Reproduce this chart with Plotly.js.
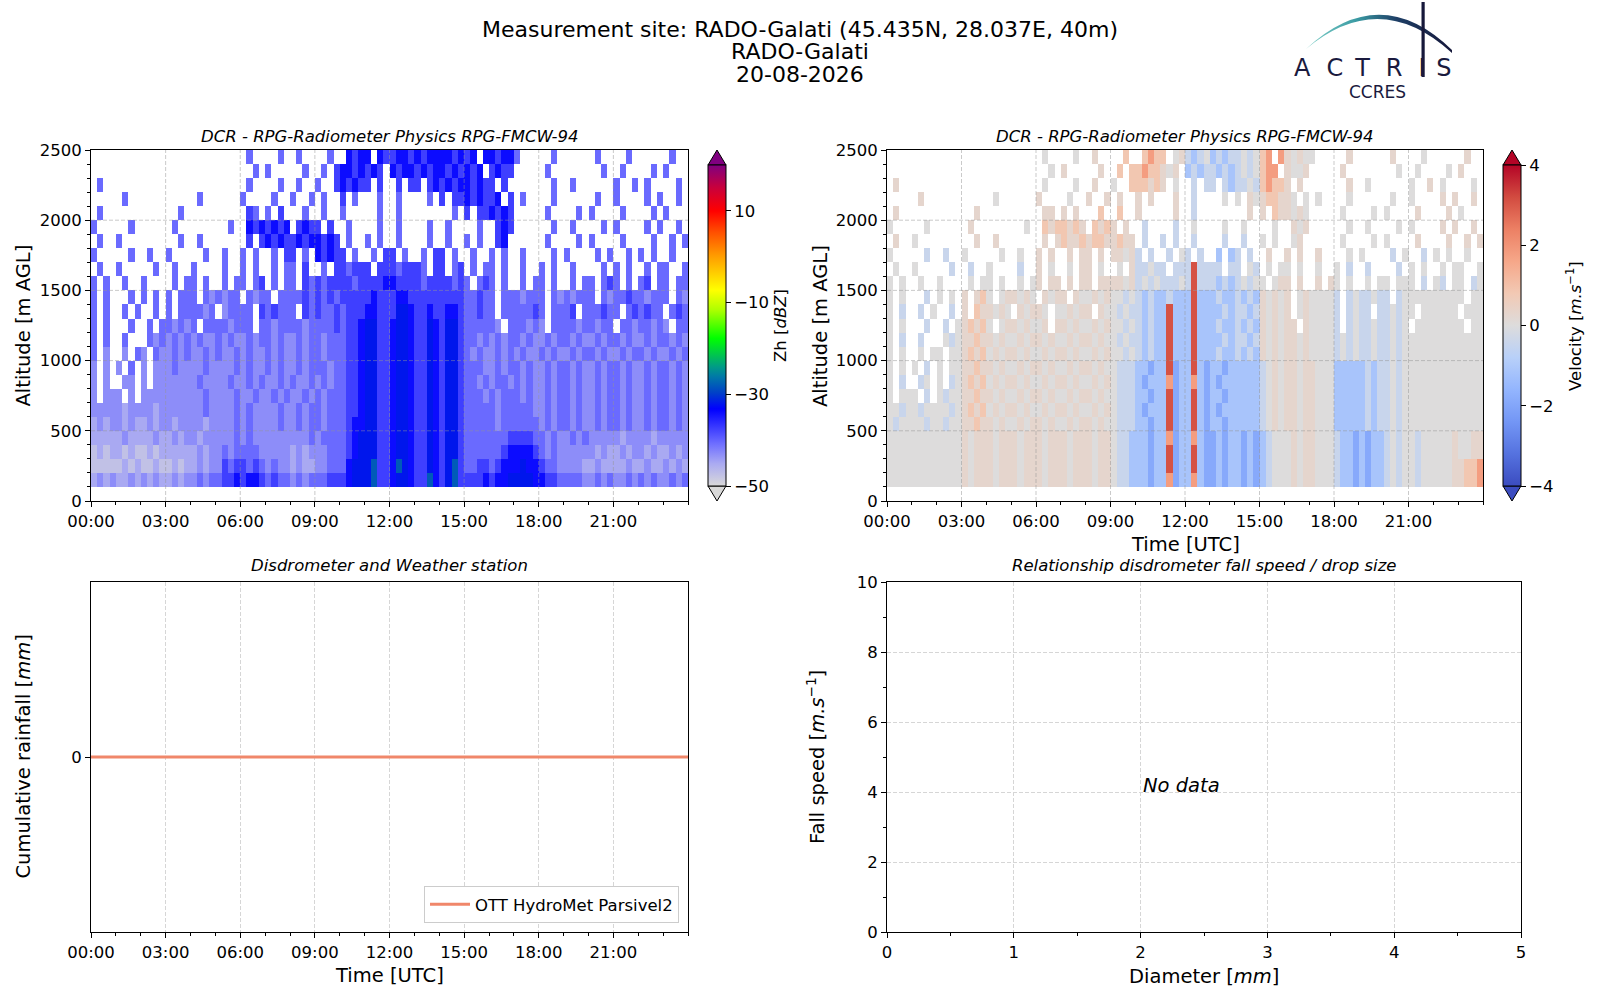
<!DOCTYPE html>
<html>
<head>
<meta charset="utf-8">
<script src="https://cdn.plot.ly/plotly-3.0.1.min.js"></script>
<style>html,body{margin:0;padding:0;background:#fff}#chart{width:1600px;height:1000px}</style>
</head>
<body>
<div id="chart"></div>
<script>
// ---------------- DATA ----------------
const hourTickValues = [0, 3, 6, 9, 12, 15, 18, 21];
const hourTickLabels = ['00:00', '03:00', '06:00', '09:00', '12:00', '15:00', '18:00', '21:00'];
const altitudeEdges = [100, 200, 300, 400, 500, 600, 700, 800, 900, 1000, 1100, 1200, 1300,
                       1400, 1500, 1600, 1700, 1800, 1900, 2000, 2100, 2200, 2300, 2400, 2500];
const timeStepHours = 0.25;            // one character = 15 minutes
const columnsPerDay = 96;

// Reflectivity, top row = 2400-2500 m, bottom row = 100-200 m ('.' = no echo)
const reflectivityRows = [
  ".... .... .... .... .... .... .4.. ..4. .4.. ..4. .656 6.65 5665 6566 6656 56.6 6566 4... ..4. .... .4.. ..4. .... .4..",
  ".... .... .... .... .... .... ..4. 4... ..4. .4.5 6656 565. 6566 5656 6565 656. 5655 .... .4.. .... ..4. .4.. ..4. 4...",
  ".4.. .... .... .... .... .... .4.. ..4. .4.. 4..5 6565 5.5. .5.5 5.56 5656 6565 5.5. .... ..4. .4.. .... 4..4 .4.. ..4.",
  ".... .4.. .... .... .4.. .... 4... .4.. 4..4 .4.. 5.4. ..4. .4.. ..4. 5.55 6565 56.5 .4.. ..4. .... .4.. 4... .4.4 ..4.",
  ".4.. .... .... ..4. .... .... .54. 4.5. ..4. .4.. 4... ..4. .4.. .... ..4. 5.55 6565 .... .4.. ..4. 4... .4.. ..4. 4...",
  "4... ..4. .... .4.. .... ..4. .656 5656 .565 5.5. .4.. ..4. .4.. ..4. .4.. ..4. .565 .... ..4. .4.. ..4. 4... .4.4 ..4.",
  ".4.. 4... .... ..4. .4.. .... .5.5 6565 5656 6565 .4.. 4.4. .4.. ..4. .4.. 4.4. .56. .... .4.. ..4. 4... .4.. ..4. .4.4",
  "4... ..4. .4.. 4... ..4. .4.. 4.4. .4.5 5.4. 6565 5.4. .4.5 5.4. .4.5 5.4. .4.. 4.4. .4.. ..4. 4... .4.4 ..4. 4.4. .4..",
  ".4.. 4... ..4. .4.. 4... .4.. 4.4. .4.4 4.5. .4.5 5455 5.55 5455 54.5 5.45 .4.4 4.4. .4.. 4.4. .4.. ..4. 4.4. .4.4 4..4",
  "4.4. .4.. 4... .4.4 4.4. .4.4 4.45 .4.4 4.54 5455 5545 5556 6555 5455 5545 4.45 4.4. .4.4 4.4. .4.4 4.45 4.4. 45.4 4.44",
  "4.4. ..4. 4.4. 4.44 4.43 4344 .434 4.44 4454 5454 5555 5655 5665 5555 5555 4454 4.44 4344 4.43 4344 4.43 4454 4344 4.43",
  "4.4. .4.4 ..4. 4.44 4434 .344 44.5 4544 4.54 5445 4555 6655 5776 5565 5665 4454 4.44 4445 4.44 45.4 4454 4.45 4544 .454",
  "4.4. ..4. .4.4 4343 4.44 4434 44.4 4344 4434 4445 4556 7755 6776 5576 5775 4444 43.4 4434 3.44 4434 4344 .443 4434 3.44",
  "4.4. .4.. .434 3434 3433 4343 3434 4343 3434 4344 4556 7755 6776 5576 5775 4434 3434 4343 3434 4343 3434 4343 3434 4343",
  "4.3. .3.4 3.43 3434 3343 4334 3433 4343 3434 4344 4556 7755 6776 5576 5775 4343 3434 3433 4343 3434 4343 3434 4343 3434",
  "3.3. 3.4. 3.33 3433 3343 3334 3433 4343 3434 4434 4556 7755 6776 5576 5775 4443 3434 4343 3434 4343 3434 4343 3434 4343",
  "3.3. .33. 3.33 3333 3433 3343 3434 3343 4334 3434 4556 7755 6776 5576 5775 4434 3443 4343 3434 4343 3434 4343 3434 4343",
  "3.33 3.3. 3333 3333 3343 3334 3343 3434 3343 4344 4556 7755 6776 5576 5775 4443 4344 4343 3434 4343 3434 4343 3434 4343",
  "3333 3233 3323 3333 3343 3334 3433 3343 3434 4344 4556 7755 6776 5576 5775 4444 4344 4443 3434 4343 3434 4343 3434 4343",
  "2323 3232 2323 3233 3323 3334 3433 3343 3434 4344 4566 7755 6776 5576 5775 4444 4344 4444 3434 4343 3434 4343 3434 4343",
  "2222 2322 2232 2323 3233 3334 3433 3333 3334 3444 4567 7755 6776 5576 5775 4444 4445 5554 4343 3434 3333 3233 3323 3333",
  "1212 2121 1212 2222 2323 3434 4443 3333 2323 3344 4567 7755 6776 5576 5775 4444 4456 6665 4343 3333 3232 2323 3232 2323",
  "1111 1212 1121 1212 2323 3545 5454 3433 2322 3344 4677 7855 6876 5576 5785 4455 4566 6766 5443 3332 2322 2232 2322 3232",
  "2323 2232 3232 2323 3434 4556 5665 4544 3434 4455 5677 7855 6776 5586 5785 5556 5667 7776 6554 4443 3434 3343 4343 3434"
];
const reflectivityLevels = {'0': -50, '1': -47.5, '2': -45, '3': -43, '4': -40.5, '5': -37.5, '6': -34, '7': -32, '8': -28, '9': -20};

// Doppler velocity, same grid (shown only where an echo exists)
const velocityRows = [
  "5656 5565 5656 5565 5656 5565 6565 5656 6656 5677 7787 7656 4345 3434 4545 7878 6565 5656 5565 6556 5665 5656 6565 5656",
  "5565 5656 5565 5656 5565 5656 6656 6565 5666 5767 7877 6565 3434 4343 4545 7887 6556 5565 5656 5565 6556 5565 5656 6565",
  "5656 5565 5656 5565 5656 5565 6565 5656 6656 5677 7767 6556 3434 4343 4454 7877 6565 5656 5565 6556 5665 5656 6565 5656",
  "5565 5656 5565 5656 5565 5656 6656 6565 6666 5676 6767 6565 5454 5454 5565 6776 6565 5565 5656 5565 6556 5565 5656 6565",
  "5656 5565 5656 5565 5656 5565 6666 6767 6676 6766 6767 6565 5454 5454 5565 6776 6565 5656 5565 6556 5665 5656 6565 5656",
  "5565 5656 5565 5656 5565 5656 6767 7676 6767 6766 5454 5545 4545 5454 5545 5656 5656 5565 5656 5565 6556 5565 5656 6565",
  "5656 5565 5656 5565 5656 5565 6676 7667 6776 6766 5454 4545 5445 4545 5454 5656 6565 5656 5565 6556 5665 5656 6565 5656",
  "5455 5545 5455 5545 5455 5545 6566 6656 6566 6656 4545 4445 4844 4343 4545 5656 6565 5656 5455 5545 5455 5545 5455 5545",
  "5545 5455 5545 5455 5545 5455 6656 6566 6656 6566 4454 4544 4944 4434 4454 6565 5656 6565 5545 5455 5545 5455 5545 5455",
  "5455 5545 5455 5545 5455 5545 6566 6656 6566 6656 4545 4445 4944 4343 4545 5656 6565 5656 5455 5545 5455 5545 5455 5545",
  "5455 5545 5455 6767 5656 6565 5656 6565 5656 5545 4343 3433 3933 3433 4343 6565 6656 5555 4545 4454 4545 5555 5555 5555",
  "5545 5455 5545 6676 6565 5656 6565 5656 6565 5454 4343 3933 3933 3343 4434 6565 6656 5555 4545 4454 4545 5555 5555 5555",
  "5455 5545 5455 6767 5656 6565 5656 6565 5656 5545 4343 3933 3933 3433 4343 6565 6656 5555 4545 4454 4545 5555 5555 5555",
  "5545 5455 5545 6676 6565 5656 6565 5656 6565 5454 4343 3933 3933 3343 4434 6565 6656 5555 4545 4454 4545 5555 5555 5555",
  "5455 5545 5455 6767 5656 6565 5656 6565 5656 5545 4343 3933 3933 3433 4343 6565 6656 5555 4545 4454 4545 5555 5555 5555",
  "5455 5545 5455 6676 6565 5656 6565 5656 6565 5444 3323 3923 3932 3323 3333 4565 6656 6555 3333 3434 4545 5555 5555 5555",
  "5545 5455 5545 6767 5656 6565 5656 6565 5656 5444 3233 3823 3832 3233 3333 4565 6656 6555 3333 3434 4545 5555 5555 5555",
  "5455 5545 5455 6676 6565 5656 6565 5656 6565 5444 3323 3923 3932 3323 3333 4565 6656 6555 3333 3434 4545 5555 5555 5555",
  "5545 5455 5545 6767 5656 6565 5656 6565 5656 5444 3233 3923 3932 3233 3333 4565 6656 6555 3333 3434 4545 5555 5555 5555",
  "5455 5545 5455 6676 6565 5656 6565 5656 6565 5444 3323 3923 3932 3323 3333 4565 6656 6555 3333 3434 4545 5555 5555 5555",
  "5555 5555 5555 6566 6566 6566 6566 6566 6566 5443 3323 3823 3832 2323 3232 3455 5656 6555 4332 3233 4545 5455 5556 5566",
  "5555 5555 5555 6566 6566 6566 6566 6566 6566 5443 3323 3923 3932 2323 3232 3455 5656 6555 4332 3233 4545 5455 5556 5566",
  "5555 5555 5555 6566 6566 6566 6566 6566 6566 5443 3323 3923 3932 2323 3232 3455 5656 6555 4332 3233 4545 5455 5556 6778",
  "5555 5555 5555 6566 6566 6566 6566 6566 6566 5443 3323 3823 3832 2323 3232 3455 5656 6555 4332 3233 4545 5455 5556 6778"
];
const velocityLevels = {'0': -4, '1': -3, '2': -1.9, '3': -1.15, '4': -0.45, '5': 0, '6': 0.3, '7': 0.85, '8': 1.8, '9': 3.1};

const zhTickValues = [-50, -30, -10, 10];
const zhTickLabels = ['\u221250', '\u221230', '\u221210', '10'];
const velTickValues = [-4, -2, 0, 2, 4];
const velTickLabels = ['\u22124', '\u22122', '0', '2', '4'];

const rainfallTimeHours = [0, 3, 6, 9, 12, 15, 18, 21, 24];
const rainfallCumulative = [0, 0, 0, 0, 0, 0, 0, 0, 0];
const dropDiameter = [];
const dropFallSpeed = [];

// ---------------- BUILD ----------------
const W = 1600, H = 1000;
const FONT = 'DejaVu Sans, Liberation Sans, sans-serif';
const px = v => v / W;
const py = v => 1 - v / H;

function decodeGrid(rows, levels) {
  return rows.slice().reverse().map(r => r.replace(/ /g, '').split('').map(c => c === '.' ? null : levels[c]));
}
const badRows = reflectivityRows.concat(velocityRows).filter(r => r.replace(/ /g, '').length !== columnsPerDay).length;
const zhGrid = decodeGrid(reflectivityRows, reflectivityLevels);
const velRaw = decodeGrid(velocityRows, velocityLevels);
const velGrid = velRaw.map((row, i) => row.map((v, j) => (zhGrid[i][j] === null || zhGrid[i][j] === undefined) ? null : v));
const timeEdges = [];
for (let k = 0; k <= columnsPerDay; k++) timeEdges.push(k * timeStepHours);

const zhScale = [
  [0.0, '#d9d9d9'], [0.07, '#aaaaf2'], [0.13, '#7070ff'], [0.24, '#0000ff'], [0.29, '#0040c8'],
  [0.34, '#0078a8'], [0.37, '#009a88'], [0.46, '#00ff00'], [0.55, '#b0ff00'], [0.61, '#ffff00'],
  [0.72, '#ff9900'], [0.79, '#ff5000'], [0.857, '#ff0000'], [0.93, '#c8003c'], [1.0, '#800080']
];
const velScale = [
  [0.0, '#3b4cc0'], [0.1, '#5572df'], [0.2, '#7396f5'], [0.3, '#93b5fe'], [0.4, '#b8d0f9'],
  [0.5, '#dddcdc'], [0.6, '#f2c9b4'], [0.7, '#f6a789'], [0.8, '#ec8064'], [0.9, '#d24b40'], [1.0, '#b40426']
];

const PANEL = {
  tl: {x: [91, 688], y: [150, 501]},
  tr: {x: [887, 1483], y: [150, 501]},
  bl: {x: [91, 688], y: [582, 932]},
  br: {x: [887, 1521], y: [582, 932]}
};
const dom = p => ({x: [px(p.x[0]), px(p.x[1])], y: [py(p.y[1]), py(p.y[0])]});

function colorbar(xLeft, vals, labels, title) {
  const cb = {
    x: px(xLeft), xanchor: 'left', y: py(486), yanchor: 'bottom',
    len: 321, lenmode: 'pixels', thickness: 18, thicknessmode: 'pixels',
    xpad: 0, ypad: 0, outlinewidth: 1, outlinecolor: '#000', borderwidth: 0,
    tickmode: 'array', tickvals: vals, ticktext: labels,
    ticks: 'outside', ticklen: 5, tickwidth: 1, tickcolor: '#000',
    tickfont: {family: FONT, size: 16.5, color: '#000'}
  };
  if (title) cb.title = {text: title, side: 'right', font: {family: FONT, size: 16.5, color: '#000'}};
  return cb;
}

const traces = [
  {type: 'heatmap', x: timeEdges, y: altitudeEdges, z: zhGrid, xaxis: 'x', yaxis: 'y',
   colorscale: zhScale, zmin: -50, zmax: 20, zsmooth: false, hoverinfo: 'skip',
   colorbar: colorbar(708, zhTickValues, zhTickLabels, 'Zh [<i>dBZ</i>]')},
  {type: 'heatmap', x: timeEdges, y: altitudeEdges, z: velGrid, xaxis: 'x2', yaxis: 'y2',
   colorscale: velScale, zmin: -4, zmax: 4, zsmooth: false, hoverinfo: 'skip',
   colorbar: colorbar(1503, velTickValues, velTickLabels, null)},
  {type: 'scatter', mode: 'lines', x: rainfallTimeHours, y: rainfallCumulative, xaxis: 'x3', yaxis: 'y3',
   name: 'OTT HydroMet Parsivel2', line: {color: '#f0876a', width: 3}, showlegend: true, hoverinfo: 'skip'},
  {type: 'scatter', mode: 'markers', x: dropDiameter, y: dropFallSpeed, xaxis: 'x4', yaxis: 'y4',
   showlegend: false, hoverinfo: 'skip'}
];

const baseAxis = {
  showline: true, mirror: true, linecolor: '#000', linewidth: 1,
  ticks: 'outside', ticklen: 5, tickwidth: 1, tickcolor: '#000',
  tickfont: {family: FONT, size: 16.5, color: '#000'},
  zeroline: false, fixedrange: true, layer: 'above traces',
  showgrid: true, gridcolor: '#d6d6d6', gridwidth: 1, griddash: '4px,2px'
};
const minor = (d) => ({tickmode: 'linear', tick0: 0, dtick: d, ticks: 'outside', ticklen: 3, tickwidth: 1, tickcolor: '#000', showgrid: false});
const timeAxis = Object.assign({}, baseAxis, {range: [0, 24], tickmode: 'array', tickvals: hourTickValues, ticktext: hourTickLabels, minor: minor(1)});
const altAxis = Object.assign({}, baseAxis, {range: [0, 2500], tickmode: 'linear', tick0: 0, dtick: 500, minor: minor(100), showgrid: false});

const layout = {
  width: W, height: H, margin: {l: 0, r: 0, t: 0, b: 0, pad: 0},
  paper_bgcolor: '#fff', plot_bgcolor: '#fff',
  font: {family: FONT, size: 16.5, color: '#000'},
  title: {text: 'Measurement site: RADO-Galati (45.435N, 28.037E, 40m)', font: {family: FONT, size: 22, color: '#000'},
          x: 0.5, xanchor: 'center', y: py(29), yanchor: 'middle', yref: 'container'},
  showlegend: true,
  legend: {x: px(679), xanchor: 'right', y: py(923), yanchor: 'bottom', bgcolor: '#fff', itemwidth: 40,
           bordercolor: '#cccccc', borderwidth: 1, font: {family: FONT, size: 16.5, color: '#000'}},
  xaxis: Object.assign({}, timeAxis, {domain: dom(PANEL.tl).x, anchor: 'y', showgrid: false}),
  yaxis: Object.assign({}, altAxis, {domain: dom(PANEL.tl).y, anchor: 'x'}),
  xaxis2: Object.assign({}, timeAxis, {domain: dom(PANEL.tr).x, anchor: 'y2', showgrid: false}),
  yaxis2: Object.assign({}, altAxis, {domain: dom(PANEL.tr).y, anchor: 'x2'}),
  xaxis3: Object.assign({}, timeAxis, {domain: dom(PANEL.bl).x, anchor: 'y3'}),
  yaxis3: Object.assign({}, baseAxis, {domain: dom(PANEL.bl).y, anchor: 'x3', range: [-0.055, 0.055], tickmode: 'array', tickvals: [0], ticktext: ['0']}),
  xaxis4: Object.assign({}, baseAxis, {domain: dom(PANEL.br).x, anchor: 'y4', range: [0, 5], tickmode: 'linear', tick0: 0, dtick: 1, minor: minor(0.5)}),
  yaxis4: Object.assign({}, baseAxis, {domain: dom(PANEL.br).y, anchor: 'x4', range: [0, 10], tickmode: 'linear', tick0: 0, dtick: 2, minor: minor(1)}),
  annotations: [],
  shapes: [],
  images: []
};

function note(text, x, y, opts) {
  return Object.assign({text: text, x: px(x), y: py(y), xref: 'paper', yref: 'paper', showarrow: false,
    xanchor: 'center', yanchor: 'middle', font: {family: FONT, size: 16.5, color: '#000'}}, opts || {});
}
const A = layout.annotations;
A.push(note('RADO-Galati', 800, 51, {font: {family: FONT, size: 22, color: '#000'}}));
A.push(note('20-08-2026', 800, 75, {font: {family: FONT, size: 22, color: '#000'}}));
A.push(note('<i>DCR - RPG-Radiometer Physics RPG-FMCW-94</i>', 389.5, 136));
A.push(note('<i>DCR - RPG-Radiometer Physics RPG-FMCW-94</i>', 1185, 136));
A.push(note('<i>Disdrometer and Weather station</i>', 389.5, 565.5));
A.push(note('<i>Relationship disdrometer fall speed / drop size</i>', 1204, 565.5));
const AX = {family: FONT, size: 19.5, color: '#000'};
A.push(note('Altitude [m AGL]', 22.5, 326, {textangle: -90, font: AX}));
A.push(note('Altitude [m AGL]', 820, 326, {textangle: -90, font: AX}));
A.push(note('Time [UTC]', 1185, 544, {font: AX}));
A.push(note('Cumulative rainfall [<i>mm</i>]', 22.5, 757, {textangle: -90, font: AX}));
A.push(note('Time [UTC]', 389.5, 975, {font: AX}));
A.push(note('Fall speed [<i>m.s</i><sup>\u22121</sup>]', 816, 757, {textangle: -90, font: AX}));
A.push(note('Diameter [<i>mm</i>]', 1204, 976, {font: AX}));
A.push(note('Velocity [<i>m.s</i><sup>\u22121</sup>]', 1574, 326, {textangle: -90}));
A.push({text: '<i>No data</i>', x: 2, y: 4, xref: 'x4', yref: 'y4', showarrow: false, xanchor: 'left', yanchor: 'middle',
        yshift: 7, font: {family: FONT, size: 19.5, color: '#000'}});
// logo text
const LOGO = {family: 'DejaVu Sans, sans-serif', color: '#1a1a3e'};
A.push(note('<span style="letter-spacing:16px">A</span><span style="letter-spacing:12px">C</span><span style="letter-spacing:16px">T</span><span style="letter-spacing:16px">R</span><span style="letter-spacing:10.5px">I</span>S',
            1291.5, 68, {xanchor: 'left', font: Object.assign({size: 24}, LOGO)}));
A.push(note('CCRES', 1377, 91.5, {font: Object.assign({size: 17}, LOGO)}));
if (badRows) A.push(note('BAD ROWS: ' + badRows, 800, 990, {font: {family: FONT, size: 20, color: 'red'}}));

// colorbar extension triangles
function tri(x0, x1, yBase, yTip, fill) {
  const xm = (x0 + x1) / 2;
  return {type: 'path', xref: 'paper', yref: 'paper', layer: 'above',
    path: `M ${px(x0)} ${py(yBase)} L ${px(xm)} ${py(yTip)} L ${px(x1)} ${py(yBase)} Z`,
    fillcolor: fill, line: {color: '#000', width: 1}};
}
layout.shapes.push(tri(708, 726, 165, 150, '#800080'));
layout.shapes.push(tri(708, 726, 486, 501, '#d9d9d9'));
layout.shapes.push(tri(1503, 1521, 165, 150, '#b40426'));
layout.shapes.push(tri(1503, 1521, 486, 501, '#3b4cc0'));

// dashed grid over the radar panels
const gridLine = {color: 'rgba(150,150,150,0.5)', width: 1, dash: '4px,2px'};
[['x', 'y'], ['x2', 'y2']].forEach(([xa, ya]) => {
  hourTickValues.slice(1).forEach(t => layout.shapes.push({type: 'line', xref: xa, yref: ya + ' domain', x0: t, x1: t, y0: 0, y1: 1, line: gridLine, layer: 'above'}));
  [500, 1000, 1500, 2000].forEach(a => layout.shapes.push({type: 'line', xref: xa + ' domain', yref: ya, x0: 0, x1: 1, y0: a, y1: a, line: gridLine, layer: 'above'}));
});

// logo arc and mast
const logoSvg = '<svg xmlns="http://www.w3.org/2000/svg" width="180" height="100" viewBox="0 0 180 100" preserveAspectRatio="none">' +
  '<defs><linearGradient id="g" x1="0" y1="0" x2="1" y2="0">' +
  '<stop offset="0" stop-color="#7fd0c8"/><stop offset="0.35" stop-color="#3a9aa3"/>' +
  '<stop offset="0.62" stop-color="#1e3f66"/><stop offset="1" stop-color="#15173a"/></linearGradient></defs>' +
  '<path d="M16,49 Q90,-20 162,50 L162,53 Q90,-13 16,49 Z" fill="url(#g)"/>' +
  '<rect x="131.5" y="2" width="3.2" height="75" fill="#16183a"/></svg>';
layout.images.push({source: 'data:image/svg+xml;charset=utf-8,' + encodeURIComponent(logoSvg),
  xref: 'paper', yref: 'paper', x: px(1290), y: 1, sizex: 180 / W, sizey: 100 / H,
  xanchor: 'left', yanchor: 'top', sizing: 'stretch', layer: 'above'});

Plotly.newPlot('chart', traces, layout, {staticPlot: true, displayModeBar: false});
</script>
</body>
</html>
